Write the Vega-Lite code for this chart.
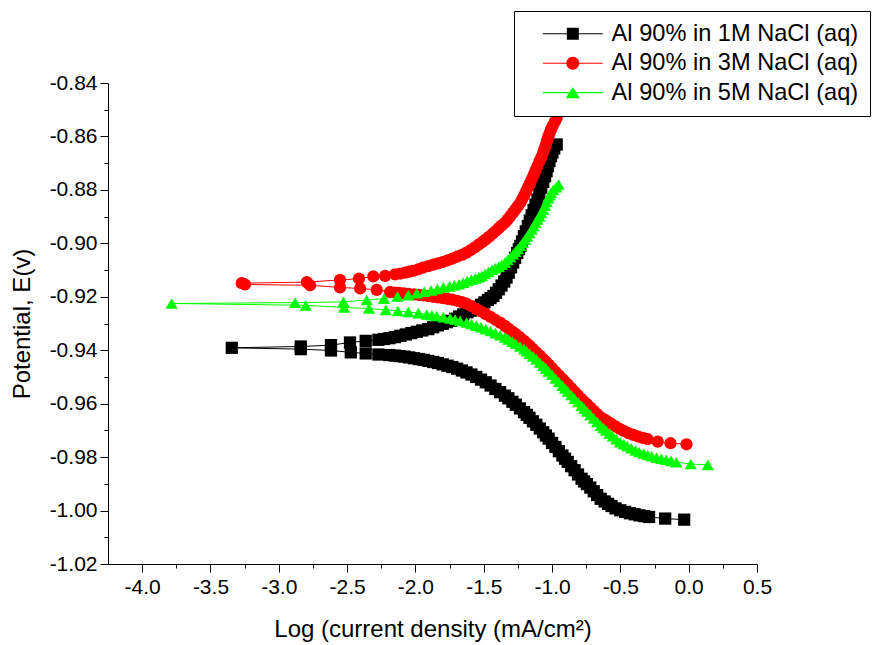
{
"$schema": "https://vega.github.io/schema/vega-lite/v6.json",
"width": 649, "height": 481,
"autosize": {"type": "none"},
"padding": {"left": 108, "top": 83, "right": 123, "bottom": 81},
"background": "white",
"config": {"view": {"stroke": null}, "font": "Liberation Sans",
  "axis": {"grid": false, "domainColor": "black", "tickColor": "black", "labelColor": "black", "titleColor": "black", "labelFont": "Liberation Sans", "titleFont": "Liberation Sans", "titleFontWeight": "normal", "domainWidth": 1, "tickWidth": 1}},
"data": {"values": [
{"s":"1M","x":-0.033,"y":-1.0034},{"s":"1M","x":-0.172,"y":-1.0030},{"s":"1M","x":-0.29,"y":-1.0024},{"s":"1M","x":-0.325,"y":-1.0021},{"s":"1M","x":-0.36,"y":-1.0018},{"s":"1M","x":-0.395,"y":-1.0014},{"s":"1M","x":-0.43,"y":-1.0010},{"s":"1M","x":-0.465,"y":-1.0005},{"s":"1M","x":-0.50,"y":-0.9999},{"s":"1M","x":-0.535,"y":-0.9992},{"s":"1M","x":-0.565,"y":-0.9983},{"s":"1M","x":-0.59,"y":-0.9975},{"s":"1M","x":-0.615,"y":-0.9966},{"s":"1M","x":-0.644,"y":-0.9956},{"s":"1M","x":-0.67,"y":-0.9942},{"s":"1M","x":-0.695,"y":-0.9928},{"s":"1M","x":-0.72,"y":-0.9914},{"s":"1M","x":-0.745,"y":-0.9901},{"s":"1M","x":-0.765,"y":-0.9891},{"s":"1M","x":-0.784,"y":-0.9881},{"s":"1M","x":-0.81,"y":-0.9865},{"s":"1M","x":-0.835,"y":-0.9849},{"s":"1M","x":-0.86,"y":-0.9834},{"s":"1M","x":-0.885,"y":-0.9818},{"s":"1M","x":-0.905,"y":-0.9806},{"s":"1M","x":-0.924,"y":-0.9794},{"s":"1M","x":-0.95,"y":-0.9778},{"s":"1M","x":-0.975,"y":-0.9762},{"s":"1M","x":-1.0,"y":-0.9747},{"s":"1M","x":-1.025,"y":-0.9731},{"s":"1M","x":-1.045,"y":-0.9719},{"s":"1M","x":-1.065,"y":-0.9707},{"s":"1M","x":-1.09,"y":-0.9693},{"s":"1M","x":-1.115,"y":-0.9679},{"s":"1M","x":-1.14,"y":-0.9666},{"s":"1M","x":-1.165,"y":-0.9653},{"s":"1M","x":-1.185,"y":-0.9642},{"s":"1M","x":-1.205,"y":-0.9632},{"s":"1M","x":-1.235,"y":-0.9618},{"s":"1M","x":-1.265,"y":-0.9604},{"s":"1M","x":-1.29,"y":-0.9593},{"s":"1M","x":-1.32,"y":-0.9580},{"s":"1M","x":-1.345,"y":-0.9570},{"s":"1M","x":-1.38,"y":-0.9557},{"s":"1M","x":-1.415,"y":-0.9545},{"s":"1M","x":-1.45,"y":-0.9532},{"s":"1M","x":-1.485,"y":-0.9520},{"s":"1M","x":-1.52,"y":-0.9510},{"s":"1M","x":-1.555,"y":-0.9500},{"s":"1M","x":-1.59,"y":-0.9491},{"s":"1M","x":-1.626,"y":-0.9483},{"s":"1M","x":-1.66,"y":-0.9476},{"s":"1M","x":-1.695,"y":-0.9469},{"s":"1M","x":-1.73,"y":-0.9463},{"s":"1M","x":-1.765,"y":-0.9458},{"s":"1M","x":-1.80,"y":-0.9453},{"s":"1M","x":-1.835,"y":-0.9448},{"s":"1M","x":-1.87,"y":-0.9444},{"s":"1M","x":-1.906,"y":-0.9440},{"s":"1M","x":-1.94,"y":-0.9436},{"s":"1M","x":-1.975,"y":-0.9433},{"s":"1M","x":-2.01,"y":-0.9430},{"s":"1M","x":-2.046,"y":-0.9427},{"s":"1M","x":-2.08,"y":-0.9424},{"s":"1M","x":-2.115,"y":-0.9422},{"s":"1M","x":-2.15,"y":-0.9420},{"s":"1M","x":-2.19,"y":-0.9418},{"s":"1M","x":-2.271,"y":-0.9416},{"s":"1M","x":-2.364,"y":-0.9412},{"s":"1M","x":-2.473,"y":-0.9408},{"s":"1M","x":-2.618,"y":-0.9401},{"s":"1M","x":-2.839,"y":-0.9396},{"s":"1M","x":-3.344,"y":-0.9391},
{"s":"1M","x":-2.839,"y":-0.9386},{"s":"1M","x":-2.618,"y":-0.9381},{"s":"1M","x":-2.479,"y":-0.9371},{"s":"1M","x":-2.364,"y":-0.9365},{"s":"1M","x":-2.271,"y":-0.9361},{"s":"1M","x":-2.23,"y":-0.9358},{"s":"1M","x":-2.19,"y":-0.9355},{"s":"1M","x":-2.15,"y":-0.9351},{"s":"1M","x":-2.11,"y":-0.9346},{"s":"1M","x":-2.07,"y":-0.9341},{"s":"1M","x":-2.03,"y":-0.9336},{"s":"1M","x":-1.99,"y":-0.9331},{"s":"1M","x":-1.95,"y":-0.9326},{"s":"1M","x":-1.906,"y":-0.9321},{"s":"1M","x":-1.87,"y":-0.9314},{"s":"1M","x":-1.835,"y":-0.9307},{"s":"1M","x":-1.80,"y":-0.9301},{"s":"1M","x":-1.77,"y":-0.9295},{"s":"1M","x":-1.738,"y":-0.9290},{"s":"1M","x":-1.71,"y":-0.9282},{"s":"1M","x":-1.68,"y":-0.9274},{"s":"1M","x":-1.65,"y":-0.9266},{"s":"1M","x":-1.62,"y":-0.9258},{"s":"1M","x":-1.595,"y":-0.9252},{"s":"1M","x":-1.569,"y":-0.9247},{"s":"1M","x":-1.545,"y":-0.9238},{"s":"1M","x":-1.52,"y":-0.9230},{"s":"1M","x":-1.495,"y":-0.9221},{"s":"1M","x":-1.47,"y":-0.9212},{"s":"1M","x":-1.45,"y":-0.9205},{"s":"1M","x":-1.429,"y":-0.9197},{"s":"1M","x":-1.41,"y":-0.9185},{"s":"1M","x":-1.39,"y":-0.9172},{"s":"1M","x":-1.37,"y":-0.9158},{"s":"1M","x":-1.35,"y":-0.9143},{"s":"1M","x":-1.333,"y":-0.9128},{"s":"1M","x":-1.317,"y":-0.9110},{"s":"1M","x":-1.30,"y":-0.9090},{"s":"1M","x":-1.285,"y":-0.9072},{"s":"1M","x":-1.27,"y":-0.9054},{"s":"1M","x":-1.255,"y":-0.9036},{"s":"1M","x":-1.243,"y":-0.9022},{"s":"1M","x":-1.232,"y":-0.9010},{"s":"1M","x":-1.22,"y":-0.8993},{"s":"1M","x":-1.206,"y":-0.8973},{"s":"1M","x":-1.192,"y":-0.8955},{"s":"1M","x":-1.177,"y":-0.8935},{"s":"1M","x":-1.163,"y":-0.8915},{"s":"1M","x":-1.149,"y":-0.8895},{"s":"1M","x":-1.135,"y":-0.8875},{"s":"1M","x":-1.121,"y":-0.8855},{"s":"1M","x":-1.107,"y":-0.8836},{"s":"1M","x":-1.093,"y":-0.8814},{"s":"1M","x":-1.079,"y":-0.8792},{"s":"1M","x":-1.065,"y":-0.8770},{"s":"1M","x":-1.051,"y":-0.8749},{"s":"1M","x":-1.04,"y":-0.8730},{"s":"1M","x":-1.03,"y":-0.8711},{"s":"1M","x":-1.019,"y":-0.8692},{"s":"1M","x":-1.008,"y":-0.8674},{"s":"1M","x":-0.997,"y":-0.8660},{"s":"1M","x":-0.984,"y":-0.8645},{"s":"1M","x":-0.966,"y":-0.8630},
{"s":"3M","x":-0.016,"y":-0.9752},{"s":"3M","x":-0.133,"y":-0.9748},{"s":"3M","x":-0.227,"y":-0.9742},{"s":"3M","x":-0.30,"y":-0.9733},{"s":"3M","x":-0.335,"y":-0.9728},{"s":"3M","x":-0.37,"y":-0.9723},{"s":"3M","x":-0.405,"y":-0.9717},{"s":"3M","x":-0.44,"y":-0.9710},{"s":"3M","x":-0.475,"y":-0.9702},{"s":"3M","x":-0.505,"y":-0.9694},{"s":"3M","x":-0.535,"y":-0.9685},{"s":"3M","x":-0.565,"y":-0.9676},{"s":"3M","x":-0.59,"y":-0.9668},{"s":"3M","x":-0.615,"y":-0.9660},{"s":"3M","x":-0.644,"y":-0.9651},{"s":"3M","x":-0.67,"y":-0.9639},{"s":"3M","x":-0.695,"y":-0.9627},{"s":"3M","x":-0.72,"y":-0.9615},{"s":"3M","x":-0.745,"y":-0.9602},{"s":"3M","x":-0.765,"y":-0.9593},{"s":"3M","x":-0.784,"y":-0.9583},{"s":"3M","x":-0.81,"y":-0.9569},{"s":"3M","x":-0.835,"y":-0.9556},{"s":"3M","x":-0.86,"y":-0.9542},{"s":"3M","x":-0.885,"y":-0.9529},{"s":"3M","x":-0.905,"y":-0.9518},{"s":"3M","x":-0.924,"y":-0.9508},{"s":"3M","x":-0.95,"y":-0.9494},{"s":"3M","x":-0.975,"y":-0.9481},{"s":"3M","x":-1.0,"y":-0.9467},{"s":"3M","x":-1.025,"y":-0.9454},{"s":"3M","x":-1.045,"y":-0.9443},{"s":"3M","x":-1.065,"y":-0.9433},{"s":"3M","x":-1.09,"y":-0.9420},{"s":"3M","x":-1.115,"y":-0.9408},{"s":"3M","x":-1.14,"y":-0.9396},{"s":"3M","x":-1.165,"y":-0.9384},{"s":"3M","x":-1.185,"y":-0.9374},{"s":"3M","x":-1.205,"y":-0.9365},{"s":"3M","x":-1.235,"y":-0.9352},{"s":"3M","x":-1.265,"y":-0.9340},{"s":"3M","x":-1.29,"y":-0.9330},{"s":"3M","x":-1.32,"y":-0.9319},{"s":"3M","x":-1.345,"y":-0.9309},{"s":"3M","x":-1.38,"y":-0.9297},{"s":"3M","x":-1.415,"y":-0.9286},{"s":"3M","x":-1.45,"y":-0.9275},{"s":"3M","x":-1.485,"y":-0.9265},{"s":"3M","x":-1.52,"y":-0.9255},{"s":"3M","x":-1.555,"y":-0.9245},{"s":"3M","x":-1.59,"y":-0.9235},{"s":"3M","x":-1.626,"y":-0.9226},{"s":"3M","x":-1.66,"y":-0.9220},{"s":"3M","x":-1.695,"y":-0.9215},{"s":"3M","x":-1.73,"y":-0.9211},{"s":"3M","x":-1.765,"y":-0.9208},{"s":"3M","x":-1.80,"y":-0.9205},{"s":"3M","x":-1.835,"y":-0.9202},{"s":"3M","x":-1.87,"y":-0.9200},{"s":"3M","x":-1.906,"y":-0.9198},{"s":"3M","x":-1.94,"y":-0.9195},{"s":"3M","x":-1.975,"y":-0.9193},{"s":"3M","x":-2.01,"y":-0.9191},{"s":"3M","x":-2.05,"y":-0.9189},{"s":"3M","x":-2.085,"y":-0.9187},{"s":"3M","x":-2.12,"y":-0.9185},{"s":"3M","x":-2.15,"y":-0.9184},{"s":"3M","x":-2.186,"y":-0.9182},{"s":"3M","x":-2.283,"y":-0.9174},{"s":"3M","x":-2.405,"y":-0.9169},{"s":"3M","x":-2.552,"y":-0.9165},{"s":"3M","x":-2.771,"y":-0.9157},{"s":"3M","x":-3.248,"y":-0.9154},
{"s":"3M","x":-3.271,"y":-0.9149},{"s":"3M","x":-2.795,"y":-0.9145},{"s":"3M","x":-2.552,"y":-0.9137},{"s":"3M","x":-2.413,"y":-0.9132},{"s":"3M","x":-2.308,"y":-0.9124},{"s":"3M","x":-2.222,"y":-0.9122},{"s":"3M","x":-2.149,"y":-0.9116},{"s":"3M","x":-2.11,"y":-0.9113},{"s":"3M","x":-2.076,"y":-0.9110},{"s":"3M","x":-2.045,"y":-0.9106},{"s":"3M","x":-2.018,"y":-0.9103},{"s":"3M","x":-1.98,"y":-0.9097},{"s":"3M","x":-1.945,"y":-0.9091},{"s":"3M","x":-1.906,"y":-0.9085},{"s":"3M","x":-1.87,"y":-0.9080},{"s":"3M","x":-1.835,"y":-0.9075},{"s":"3M","x":-1.80,"y":-0.9070},{"s":"3M","x":-1.765,"y":-0.9064},{"s":"3M","x":-1.73,"y":-0.9057},{"s":"3M","x":-1.695,"y":-0.9050},{"s":"3M","x":-1.66,"y":-0.9043},{"s":"3M","x":-1.626,"y":-0.9035},{"s":"3M","x":-1.595,"y":-0.9025},{"s":"3M","x":-1.565,"y":-0.9015},{"s":"3M","x":-1.535,"y":-0.9004},{"s":"3M","x":-1.51,"y":-0.8995},{"s":"3M","x":-1.485,"y":-0.8985},{"s":"3M","x":-1.46,"y":-0.8975},{"s":"3M","x":-1.435,"y":-0.8964},{"s":"3M","x":-1.41,"y":-0.8953},{"s":"3M","x":-1.39,"y":-0.8943},{"s":"3M","x":-1.37,"y":-0.8934},{"s":"3M","x":-1.345,"y":-0.8923},{"s":"3M","x":-1.325,"y":-0.8911},{"s":"3M","x":-1.305,"y":-0.8898},{"s":"3M","x":-1.285,"y":-0.8885},{"s":"3M","x":-1.268,"y":-0.8873},{"s":"3M","x":-1.25,"y":-0.8861},{"s":"3M","x":-1.232,"y":-0.8848},{"s":"3M","x":-1.218,"y":-0.8834},{"s":"3M","x":-1.204,"y":-0.8820},{"s":"3M","x":-1.19,"y":-0.8805},{"s":"3M","x":-1.176,"y":-0.8790},{"s":"3M","x":-1.162,"y":-0.8775},{"s":"3M","x":-1.149,"y":-0.8761},{"s":"3M","x":-1.135,"y":-0.8745},{"s":"3M","x":-1.121,"y":-0.8728},{"s":"3M","x":-1.107,"y":-0.8711},{"s":"3M","x":-1.093,"y":-0.8694},{"s":"3M","x":-1.079,"y":-0.8678},{"s":"3M","x":-1.065,"y":-0.8661},{"s":"3M","x":-1.055,"y":-0.8645},{"s":"3M","x":-1.045,"y":-0.8630},{"s":"3M","x":-1.036,"y":-0.8615},{"s":"3M","x":-1.027,"y":-0.8600},{"s":"3M","x":-1.017,"y":-0.8587},{"s":"3M","x":-1.008,"y":-0.8574},{"s":"3M","x":-0.995,"y":-0.8560},{"s":"3M","x":-0.98,"y":-0.8545},{"s":"3M","x":-0.966,"y":-0.8531},
{"s":"5M","x":0.14,"y":-0.9829},{"s":"5M","x":0.015,"y":-0.9826},{"s":"5M","x":-0.091,"y":-0.9819},{"s":"5M","x":-0.13,"y":-0.9814},{"s":"5M","x":-0.165,"y":-0.9810},{"s":"5M","x":-0.2,"y":-0.9806},{"s":"5M","x":-0.235,"y":-0.9802},{"s":"5M","x":-0.27,"y":-0.9797},{"s":"5M","x":-0.30,"y":-0.9792},{"s":"5M","x":-0.33,"y":-0.9787},{"s":"5M","x":-0.363,"y":-0.9781},{"s":"5M","x":-0.39,"y":-0.9775},{"s":"5M","x":-0.42,"y":-0.9767},{"s":"5M","x":-0.45,"y":-0.9759},{"s":"5M","x":-0.475,"y":-0.9752},{"s":"5M","x":-0.503,"y":-0.9744},{"s":"5M","x":-0.53,"y":-0.9733},{"s":"5M","x":-0.555,"y":-0.9722},{"s":"5M","x":-0.58,"y":-0.9711},{"s":"5M","x":-0.605,"y":-0.9700},{"s":"5M","x":-0.625,"y":-0.9691},{"s":"5M","x":-0.644,"y":-0.9682},{"s":"5M","x":-0.67,"y":-0.9668},{"s":"5M","x":-0.695,"y":-0.9655},{"s":"5M","x":-0.72,"y":-0.9642},{"s":"5M","x":-0.745,"y":-0.9629},{"s":"5M","x":-0.765,"y":-0.9618},{"s":"5M","x":-0.784,"y":-0.9608},{"s":"5M","x":-0.81,"y":-0.9594},{"s":"5M","x":-0.835,"y":-0.9581},{"s":"5M","x":-0.86,"y":-0.9567},{"s":"5M","x":-0.885,"y":-0.9554},{"s":"5M","x":-0.905,"y":-0.9543},{"s":"5M","x":-0.924,"y":-0.9533},{"s":"5M","x":-0.95,"y":-0.9519},{"s":"5M","x":-0.975,"y":-0.9506},{"s":"5M","x":-1.0,"y":-0.9492},{"s":"5M","x":-1.025,"y":-0.9479},{"s":"5M","x":-1.045,"y":-0.9468},{"s":"5M","x":-1.065,"y":-0.9458},{"s":"5M","x":-1.09,"y":-0.9446},{"s":"5M","x":-1.115,"y":-0.9434},{"s":"5M","x":-1.14,"y":-0.9423},{"s":"5M","x":-1.165,"y":-0.9413},{"s":"5M","x":-1.185,"y":-0.9404},{"s":"5M","x":-1.205,"y":-0.9396},{"s":"5M","x":-1.235,"y":-0.9386},{"s":"5M","x":-1.265,"y":-0.9376},{"s":"5M","x":-1.29,"y":-0.9368},{"s":"5M","x":-1.32,"y":-0.9360},{"s":"5M","x":-1.345,"y":-0.9352},{"s":"5M","x":-1.38,"y":-0.9344},{"s":"5M","x":-1.415,"y":-0.9336},{"s":"5M","x":-1.45,"y":-0.9328},{"s":"5M","x":-1.485,"y":-0.9321},{"s":"5M","x":-1.52,"y":-0.9314},{"s":"5M","x":-1.555,"y":-0.9308},{"s":"5M","x":-1.59,"y":-0.9302},{"s":"5M","x":-1.626,"y":-0.9296},{"s":"5M","x":-1.673,"y":-0.9290},{"s":"5M","x":-1.71,"y":-0.9285},{"s":"5M","x":-1.746,"y":-0.9281},{"s":"5M","x":-1.795,"y":-0.9276},{"s":"5M","x":-1.844,"y":-0.9272},{"s":"5M","x":-1.88,"y":-0.9269},{"s":"5M","x":-1.917,"y":-0.9266},{"s":"5M","x":-1.978,"y":-0.9261},{"s":"5M","x":-2.052,"y":-0.9257},{"s":"5M","x":-2.129,"y":-0.9253},{"s":"5M","x":-2.217,"y":-0.9249},{"s":"5M","x":-2.340,"y":-0.9244},{"s":"5M","x":-2.522,"y":-0.9240},{"s":"5M","x":-2.803,"y":-0.9232},{"s":"5M","x":-3.784,"y":-0.9225},
{"s":"5M","x":-2.881,"y":-0.9222},{"s":"5M","x":-2.527,"y":-0.9219},{"s":"5M","x":-2.356,"y":-0.9212},{"s":"5M","x":-2.230,"y":-0.9207},{"s":"5M","x":-2.132,"y":-0.9199},{"s":"5M","x":-2.052,"y":-0.9194},{"s":"5M","x":-1.990,"y":-0.9187},{"s":"5M","x":-1.935,"y":-0.9181},{"s":"5M","x":-1.885,"y":-0.9176},{"s":"5M","x":-1.84,"y":-0.9171},{"s":"5M","x":-1.795,"y":-0.9165},{"s":"5M","x":-1.75,"y":-0.9161},{"s":"5M","x":-1.715,"y":-0.9157},{"s":"5M","x":-1.681,"y":-0.9153},{"s":"5M","x":-1.65,"y":-0.9147},{"s":"5M","x":-1.62,"y":-0.9141},{"s":"5M","x":-1.59,"y":-0.9136},{"s":"5M","x":-1.56,"y":-0.9131},{"s":"5M","x":-1.535,"y":-0.9127},{"s":"5M","x":-1.514,"y":-0.9122},{"s":"5M","x":-1.49,"y":-0.9115},{"s":"5M","x":-1.465,"y":-0.9107},{"s":"5M","x":-1.44,"y":-0.9099},{"s":"5M","x":-1.415,"y":-0.9093},{"s":"5M","x":-1.39,"y":-0.9087},{"s":"5M","x":-1.368,"y":-0.9080},{"s":"5M","x":-1.345,"y":-0.9072},{"s":"5M","x":-1.325,"y":-0.9062},{"s":"5M","x":-1.305,"y":-0.9052},{"s":"5M","x":-1.285,"y":-0.9041},{"s":"5M","x":-1.268,"y":-0.9031},{"s":"5M","x":-1.25,"y":-0.9021},{"s":"5M","x":-1.232,"y":-0.9010},{"s":"5M","x":-1.215,"y":-0.8998},{"s":"5M","x":-1.198,"y":-0.8986},{"s":"5M","x":-1.182,"y":-0.8974},{"s":"5M","x":-1.165,"y":-0.8961},{"s":"5M","x":-1.149,"y":-0.8948},{"s":"5M","x":-1.135,"y":-0.8936},{"s":"5M","x":-1.121,"y":-0.8923},{"s":"5M","x":-1.107,"y":-0.8911},{"s":"5M","x":-1.093,"y":-0.8898},{"s":"5M","x":-1.079,"y":-0.8886},{"s":"5M","x":-1.065,"y":-0.8873},{"s":"5M","x":-1.052,"y":-0.8859},{"s":"5M","x":-1.04,"y":-0.8845},{"s":"5M","x":-1.028,"y":-0.8831},{"s":"5M","x":-1.018,"y":-0.8820},{"s":"5M","x":-1.008,"y":-0.8811},{"s":"5M","x":-0.99,"y":-0.8800},{"s":"5M","x":-0.97,"y":-0.8790},{"s":"5M","x":-0.952,"y":-0.8780}
]},
"layer": [
 {"mark": {"type": "line", "strokeWidth": 1},
  "encoding": {
   "x": {"field": "x", "type": "quantitative", "scale": {"domain": [-4.25, 0.5], "nice": false, "zero": false},
     "axis": {"orient": "bottom", "values": [-4, -3.5, -3, -2.5, -2, -1.5, -1, -0.5, 0, 0.5], "labelExpr": "replace(format(datum.value, '.1f'), '\u2212', '-')", "tickSize": 8, "labelFontSize": 21, "labelPadding": 4, "title": "Log (current density (mA/cm²)", "titleFontSize": 24, "titlePadding": 20, "labelFlush": false, "labelOverlap": false}},
   "y": {"field": "y", "type": "quantitative", "scale": {"domain": [-1.02, -0.84], "nice": false, "zero": false},
     "axis": {"orient": "left", "values": [-1.02, -1.0, -0.98, -0.96, -0.94, -0.92, -0.9, -0.88, -0.86, -0.84], "labelExpr": "replace(format(datum.value, '.2f'), '\u2212', '-')", "tickSize": 8, "labelFontSize": 21, "labelPadding": 3, "title": "Potential, E(v)", "titleFontSize": 24, "titlePadding": 15, "labelFlush": false, "labelOverlap": false}},
   "color": {"field": "s", "type": "nominal", "scale": {"domain": ["1M", "3M", "5M"], "range": ["#000000", "#ff0000", "#00ff00"]}, "legend": null},
   "order": {"value": null}
  }},
 {"mark": {"type": "point", "filled": true, "opacity": 1, "size": 150},
  "encoding": {
   "x": {"field": "x", "type": "quantitative", "axis": {"orient": "bottom", "values": [-3.75, -3.25, -2.75, -2.25, -1.75, -1.25, -0.75, -0.25, 0.25], "labels": false, "domain": false, "tickSize": 4, "title": null}},
   "y": {"field": "y", "type": "quantitative", "axis": {"orient": "left", "values": [-1.01, -0.99, -0.97, -0.95, -0.93, -0.91, -0.89, -0.87, -0.85], "labels": false, "domain": false, "tickSize": 4, "title": null}},
   "color": {"field": "s", "type": "nominal", "scale": {"domain": ["1M", "3M", "5M"], "range": ["#000000", "#ff0000", "#00ff00"]}, "legend": null},
   "shape": {"field": "s", "type": "nominal", "scale": {"domain": ["1M", "3M", "5M"], "range": ["square", "circle", "triangle-up"]}, "legend": null}
  }},
 {"mark": {"type": "point", "filled": true, "opacity": 0},
  "encoding": {
   "x": {"field": "x", "type": "quantitative", "axis": null},
   "y": {"field": "y", "type": "quantitative", "axis": null},
   "color": {"field": "s", "type": "nominal", "scale": {"domain": ["1M", "3M", "5M"], "range": ["#000000", "#ff0000", "#00ff00"]},
     "legend": {"orient": "none", "legendX": 406, "legendY": -72, "title": null, "strokeColor": "black", "fillColor": "white", "padding": 11, "symbolSize": 144, "symbolOffset": 36, "labelOffset": 27, "labelFontSize": 23.6, "labelLimit": 400, "labelFont": "Liberation Sans", "labelColor": "black", "rowPadding": 4.4, "symbolStrokeWidth": 0, "symbolOpacity": 1, "labelExpr": "'Al 90% in ' + datum.label + ' NaCl (aq)\u00a0'"}},
   "shape": {"field": "s", "type": "nominal", "scale": {"domain": ["1M", "3M", "5M"], "range": ["M-5,-0.09H5V0.09H-5Z M-1,-1H1V1H-1Z", "M-5,-0.09H5V0.09H-5Z M-1.08,0A1.08,1.08 0 1,1 1.08,0A1.08,1.08 0 1,1 -1.08,0Z", "M-5,-0.09H5V0.09H-5Z M0,-0.95L1.2,0.95L-1.2,0.95Z"]},
     "legend": {"orient": "none", "legendX": 406, "legendY": -72, "title": null, "strokeColor": "black", "fillColor": "white", "padding": 11, "symbolSize": 144, "symbolOffset": 36, "labelOffset": 27, "labelFontSize": 23.6, "labelLimit": 400, "labelFont": "Liberation Sans", "labelColor": "black", "rowPadding": 4.4, "symbolStrokeWidth": 0, "symbolOpacity": 1, "labelExpr": "'Al 90% in ' + datum.label + ' NaCl (aq)\u00a0'"}}
  }}
],
"resolve": {"scale": {"color": "independent", "shape": "independent"}, "axis": {"x": "independent", "y": "independent"}}
}
